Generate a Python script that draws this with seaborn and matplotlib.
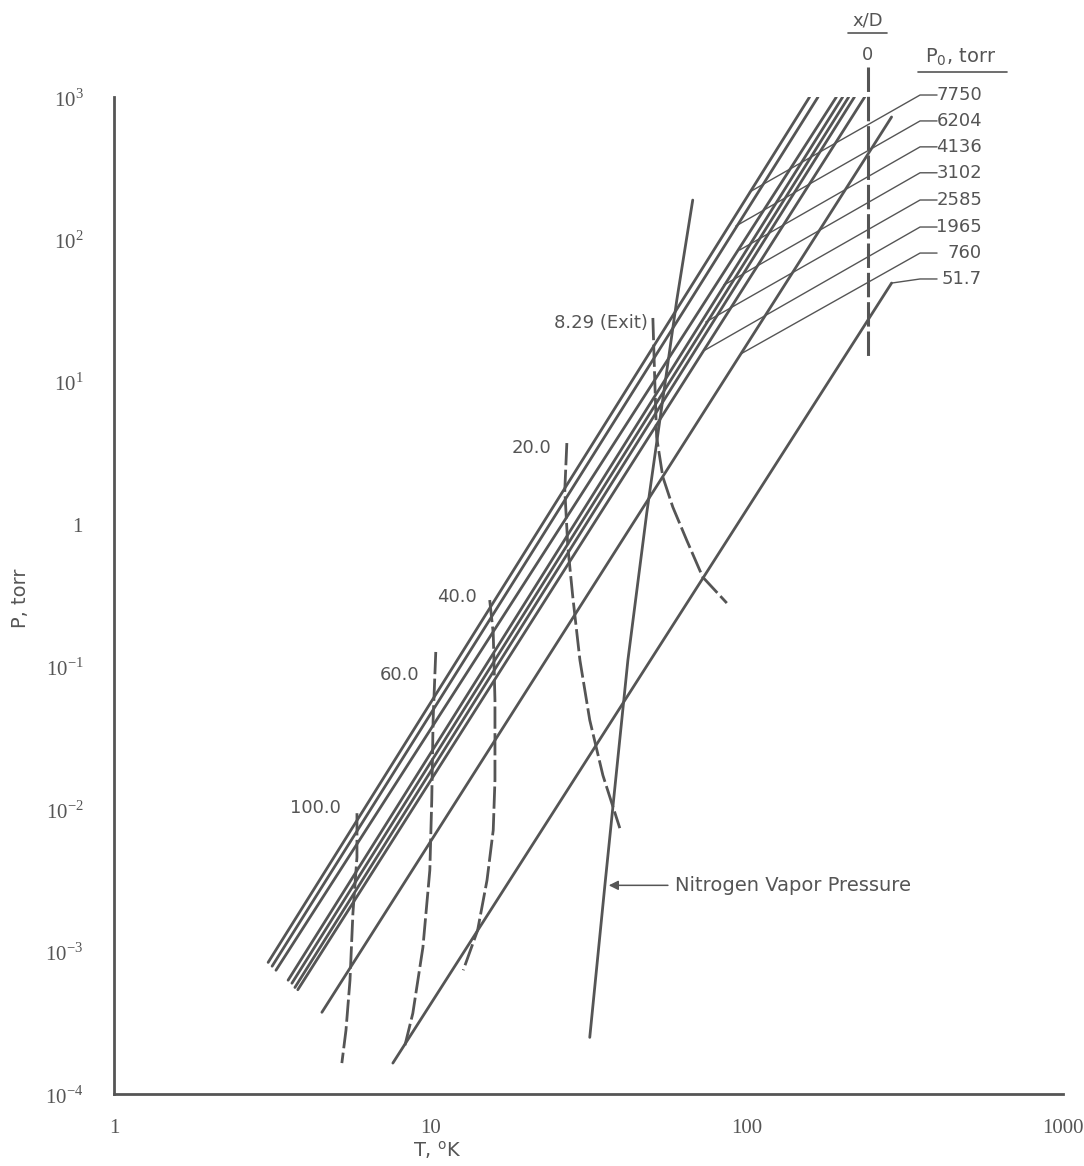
import matplotlib
matplotlib.use("Agg")
import numpy as np
import pandas as pd
import matplotlib.pyplot as plt
import seaborn as sns

# isentropes: end points (T in K, P in torr)
line_ids = ['a', 'b', 'c', 'd', 'e', 'f', 'g', 'h', 'i']
T_low = [3.07, 3.16, 3.25, 3.55, 3.65, 3.73, 3.81, 4.54, 7.61]
P_low = [8.4e-4, 7.9e-4, 7.4e-4, 6.3e-4, 6.0e-4, 5.6e-4, 5.4e-4, 3.75e-4, 1.65e-4]
T_high = [158, 168, 192, 201, 210, 219, 236, 287, 287]
P_high = [1000, 1000, 1000, 1000, 1000, 1000, 1000, 724, 49.4]

# P0 labels and where their leader lines touch the isentropes
p0_labels = ['7750', '6204', '4136', '3102', '2585', '1965', '760', '51.7']
leader_T = [102, 92.3, 95.0, 84.6, 74.2, 73.7, 95.7, 287]
leader_P = [215, 124, 84.3, 47.8, 26.3, 16.7, 15.7, 49.4]

# nitrogen vapor pressure curve
vap_T = [31.9, 35.6, 42.1, 48.3, 60.1, 67.5]
vap_P = [2.5e-4, 2.9e-3, 0.111, 1.2, 37.5, 189]

# x/D stations (dashed)
xd0_T = [241, 241]
xd0_P = [1624, 14.9]
xd829_T = [50.5, 51.2, 51.9, 54.3, 58.4, 64.6, 72.6, 86.5]
xd829_P = [28.1, 10.3, 4.10, 2.15, 1.32, 0.774, 0.426, 0.280]
xd20_T = [27.0, 26.6, 27.2, 28.2, 29.7, 31.9, 35.1, 39.7]
xd20_P = [3.72, 1.74, 0.692, 0.308, 0.111, 0.0422, 0.0173, 0.00736]
xd40_T = [15.4, 15.8, 16.0, 16.0, 15.8, 15.1, 14.1, 12.7]
xd40_P = [0.294, 0.172, 0.0583, 0.0160, 0.00712, 0.00317, 0.00141, 7.4e-4]
xd60_T = [10.4, 10.2, 10.1, 9.96, 9.47, 8.80, 8.31]
xd60_P = [0.127, 0.0422, 0.01157, 0.00373, 0.00107, 3.69e-4, 2.2e-4]
xd100_T = [5.86, 5.86, 5.69, 5.57, 5.41, 5.25]
xd100_P = [0.00937, 0.0046, 0.00186, 6.3e-4, 2.81e-4, 1.65e-4]

xd_labels = ['8.29 (Exit)', '20.0', '40.0', '60.0', '100.0']
xd_label_T = [48.7, 24.2, 14.0, 9.26, 5.2]
xd_label_P = [25.9, 3.43, 0.308, 0.0873, 0.0102]

y_ticks = [1e-4, 1e-3, 1e-2, 1e-1, 1, 10, 100, 1000]
y_ticklabels = ['$10^{-4}$', '$10^{-3}$', '$10^{-2}$', '$10^{-1}$', '$1$',
                '$10^{1}$', '$10^{2}$', '$10^{3}$']
x_ticks = [1, 10, 100, 1000]
x_ticklabels = ['1', '10', '100', '1000']

GRAY = '#555555'
DASH = (0, (8, 1.6))

sns.set_style('white')
plt.rcParams['font.family'] = ['Liberation Sans Narrow', 'DejaVu Sans']
plt.rcParams['mathtext.fontset'] = 'custom'
plt.rcParams['mathtext.rm'] = 'Liberation Serif'
plt.rcParams['mathtext.sf'] = 'DejaVu Sans'
plt.rcParams['text.color'] = GRAY

fig = plt.figure(figsize=(10.84, 11.66), dpi=100)
ax = fig.add_axes([0.1052, 0.0617, 0.8755, 0.8551])

df = pd.DataFrame({
    'line': line_ids * 2,
    'T': T_low + T_high,
    'P': P_low + P_high,
})
sns.lineplot(data=df, x='T', y='P', units='line', estimator=None, sort=False,
             color=GRAY, lw=2.0, legend=False, ax=ax)
sns.lineplot(x=vap_T, y=vap_P, estimator=None, sort=False, color=GRAY, lw=2.0, ax=ax)

for xs, ys in [(xd829_T, xd829_P), (xd20_T, xd20_P), (xd40_T, xd40_P),
               (xd60_T, xd60_P), (xd100_T, xd100_P)]:
    sns.lineplot(x=xs, y=ys, estimator=None, sort=False, color=GRAY, lw=2.0,
                 linestyle=DASH, ax=ax)
ax.plot(xd0_T, xd0_P, color=GRAY, lw=2.2, linestyle=DASH, clip_on=False)

ax.set_xscale('log')
ax.set_yscale('log')
ax.set_xlim(1, 1000)
ax.set_ylim(1e-4, 1e3)


def frac_to_data(fx, fy):
    return 10 ** (3 * fx), 10 ** (-4 + 7 * fy)


# P0 labels with leaders
label_fy = [1.002, 0.976, 0.950, 0.924, 0.8967, 0.8696, 0.8435, 0.8175]
for lab, fy, lt, lp in zip(p0_labels, label_fy, leader_T, leader_P):
    x0, y0 = frac_to_data(0.8672, fy)
    x1, _ = frac_to_data(0.8493, fy)
    ax.plot([x0, x1, lt], [y0, y0, lp], color=GRAY, lw=1.0, clip_on=False)
    ax.text(0.9146, fy, lab, transform=ax.transAxes, ha='right', va='center',
            fontsize=13)

ax.text(0.8925, 1.040, r'$\mathsf{P_0}$, torr', transform=ax.transAxes,
        ha='center', va='center', fontsize=14)
ax.plot([0.847, 0.941], [1.025, 1.025], transform=ax.transAxes, color=GRAY,
        lw=1.2, clip_on=False)
ax.text(0.7945, 1.077, 'x/D', transform=ax.transAxes, ha='center',
        va='center', fontsize=13)
ax.plot([0.7735, 0.8146], [1.0645, 1.0645], transform=ax.transAxes,
        color=GRAY, lw=1.2, clip_on=False)
ax.text(0.7935, 1.042, '0', transform=ax.transAxes, ha='center',
        va='center', fontsize=13)

for lab, lt, lp in zip(xd_labels, xd_label_T, xd_label_P):
    ax.text(lt, lp, lab, ha='right', va='center', fontsize=13)

ax.annotate('', xy=(35.9, 2.92e-3), xytext=(57.5, 2.92e-3),
            arrowprops=dict(arrowstyle='-|>', color=GRAY, lw=1.1,
                            mutation_scale=14))
ax.text(59.3, 2.92e-3, 'Nitrogen Vapor Pressure', ha='left', va='center',
        fontsize=14)

# axes styling
for side in ['top', 'right']:
    ax.spines[side].set_visible(False)
for side in ['left', 'bottom']:
    ax.spines[side].set_color(GRAY)
    ax.spines[side].set_linewidth(2.0)
ax.set_xticks(x_ticks)
ax.set_xticklabels(x_ticklabels, fontsize=15, family='Liberation Serif')
ax.set_yticks(y_ticks)
ax.set_yticklabels(y_ticklabels, fontsize=15)
ax.minorticks_off()
ax.tick_params(axis='y', direction='in', length=10, width=1.3, color=GRAY,
               pad=22, labelcolor=GRAY)
ax.tick_params(axis='x', direction='in', length=10, width=1.3, color=GRAY,
               pad=18, labelcolor=GRAY)
ax.set_xlabel('')
ax.set_ylabel('')

fig.text(20 / 1084, 1 - 598 / 1166, 'P, torr', rotation=90, ha='center',
         va='center', fontsize=14)
fig.text(437 / 1084, 1 - 1150 / 1166, r'T, $^{\mathsf{o}}$K', ha='center',
         va='center', fontsize=14)

fig.savefig('out.png', dpi=100, facecolor='white')
